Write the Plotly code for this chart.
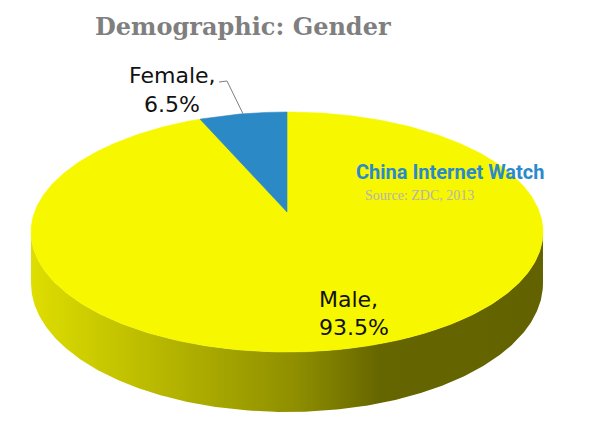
import numpy as np
import plotly.graph_objects as go

# ---- data ----
labels = ["Female", "Male"]
values = [6.5, 93.5]
title_text = "Demographic: Gender"
brand_text = "China Internet Watch"
source_text = "Source: ZDC, 2013"

# ---- style / geometry (pixel space of the reference) ----
W, H = 600, 429
OFF = 8                    # page body margin
CX, CY = 287.0, 212.0      # projected centre of pie top
F = 252.4                  # horizontal scale
FB = 116.67                # vertical scale
PERSP = 1.0 / 6.0          # perspective factor
DEPTH = 50.0               # thickness
slice_colors = {"Female": "#2b8ac6", "Male": "#f7f700"}


def proj(theta_deg, drop=0.0):
    t = np.radians(theta_deg)
    X, Z = np.sin(t), np.cos(t)
    d = 1.0 + Z * PERSP
    return CX + F * X / d, CY - FB * Z / d + drop / d


fig = go.Figure()

# side wall (front, visible part)
edge = np.degrees(np.arccos(-PERSP))
th = np.linspace(edge, 360 - edge, 300)
xt, yt = proj(th)
xb, yb = proj(th[::-1], DEPTH)
fig.add_trace(go.Scatter(
    x=np.concatenate([xt, xb]), y=np.concatenate([yt, yb]),
    mode="lines", fill="toself", line=dict(width=0),
    fillgradient=dict(type="horizontal", start=31, stop=543,
                      colorscale=[[0, "#dede00"], [0.52, "#8e8e00"],
                                  [0.68, "#666600"], [1, "#626200"]]),
    hoverinfo="skip", showlegend=False))

# top slices: Female counter-clockwise from 12 o'clock, Male the rest
total = sum(values)
female_ang = values[0] / total * 360
spans = {"Female": (-female_ang, 0.0), "Male": (0.0, 360 - female_ang)}
for lab in ["Male", "Female"]:
    a0, a1 = spans[lab]
    th = np.linspace(a0, a1, 400)
    xs, ys = proj(th)
    fig.add_trace(go.Scatter(
        x=np.concatenate([[CX], xs, [CX]]), y=np.concatenate([[CY], ys, [CY]]),
        mode="lines", fill="toself", fillcolor=slice_colors[lab],
        line=dict(width=0.6, color=slice_colors[lab]),
        hoverinfo="skip", showlegend=False))

# leader line for Female
mx, my = proj(-female_ang / 2)
fig.add_trace(go.Scatter(x=[219, 227, float(mx)], y=[82, 81, float(my)],
                         mode="lines", line=dict(color="#7f7f7f", width=1),
                         hoverinfo="skip", showlegend=False))

lab_font = dict(family="DejaVu Sans", size=22, color="#111111")
ann = []
ann.append(dict(x=172, y=75, text=f"{labels[0]},", xanchor="center", yanchor="middle",
                showarrow=False, font=lab_font))
ann.append(dict(x=172, y=104, text=f"{values[0]}%", xanchor="center", yanchor="middle",
                showarrow=False, font=lab_font))
ann.append(dict(x=317, y=299, text=f"{labels[1]},", xanchor="left", yanchor="middle",
                showarrow=False, font=lab_font))
ann.append(dict(x=317, y=327, text=f"{values[1]}%", xanchor="left", yanchor="middle",
                showarrow=False, font=lab_font))
ann.append(dict(x=243, y=26, text=f"<b>{title_text}</b>", xanchor="center", yanchor="middle",
                showarrow=False, font=dict(family="DejaVu Serif", size=24, color="#7f7f7f")))
ann.append(dict(x=450, y=172, text=f"<b>{brand_text}</b>", xanchor="center", yanchor="middle",
                showarrow=False, font=dict(family="Liberation Sans Narrow, Roboto", size=20,
                                           color="#2b8acb")))
ann.append(dict(x=363, y=195, text=source_text, xanchor="left", yanchor="middle",
                showarrow=False, font=dict(family="Liberation Serif", size=14, color="#b4b4b4")))

fig.update_layout(
    width=W - OFF, height=H - OFF, margin=dict(l=0, r=0, t=0, b=0),
    paper_bgcolor="white", plot_bgcolor="white",
    xaxis=dict(range=[OFF, W], visible=False, fixedrange=True),
    yaxis=dict(range=[H, OFF], visible=False, fixedrange=True),
    annotations=ann, showlegend=False)

fig.write_html("out.html", config={"displayModeBar": False})
